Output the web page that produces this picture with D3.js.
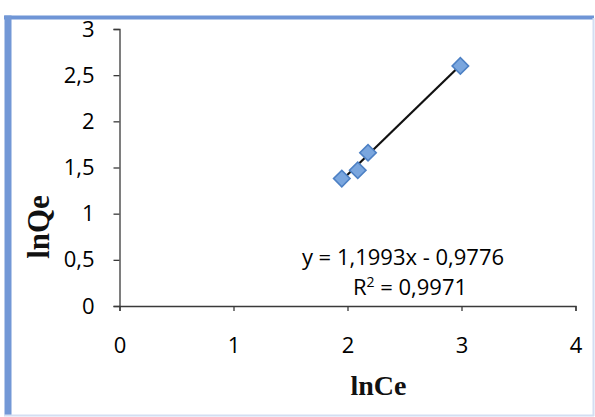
<!DOCTYPE html>
<html>
<head>
<meta charset="utf-8">
<script src="https://cdn.jsdelivr.net/npm/d3@7"></script>
<style>
  html, body { margin: 0; padding: 0; background: #fff; }
  svg { display: block; }
</style>
</head>
<body>
<svg id="chart" width="595" height="417"></svg>
<script>
// Freundlich isotherm points: lnCe vs lnQe
const lnCe = [1.95, 2.09, 2.18, 2.99];
const lnQe = [1.38, 1.47, 1.66, 2.60];

// Linear trendline as reported
const slope = 1.1993;
const intercept = -0.9776;
const rSquared = 0.9971;

const xTicks = [0, 1, 2, 3, 4];
const yTicks = [0, 0.5, 1, 1.5, 2, 2.5, 3];

const fmt = v => String(v).replace(".", ",");

const svg = d3.select("#chart");

// Frame around the chart
const frame = svg.append("g");
frame.append("line").attr("x1", 4).attr("x2", 594).attr("y1", 17.5).attr("y2", 17.5)
  .attr("stroke", "#6f95d6").attr("stroke-width", 4);
frame.append("line").attr("x1", 8).attr("x2", 8).attr("y1", 15.5).attr("y2", 416)
  .attr("stroke", "#7398d6").attr("stroke-width", 7);
frame.append("line").attr("x1", 593.5).attr("x2", 593.5).attr("y1", 18).attr("y2", 416)
  .attr("stroke", "#d3def2").attr("stroke-width", 2);
frame.append("line").attr("x1", 4).attr("x2", 594).attr("y1", 415.5).attr("y2", 415.5)
  .attr("stroke", "#d3def2").attr("stroke-width", 2);

const x = d3.scaleLinear().domain([0, 4]).range([119.5, 575.5]);
const y = d3.scaleLinear().domain([0, 3]).range([306, 29]);

const axisColor = "#3a3a3a";
const tickFont = "'Open Sans', 'Liberation Sans', sans-serif";

// Y axis
const gy = svg.append("g").attr("transform", `translate(${x(0)},0)`)
  .call(d3.axisLeft(y).tickValues(yTicks).tickFormat(fmt).tickSize(6).tickPadding(19));
gy.select(".domain").attr("stroke", axisColor).attr("stroke-width", 1.3);
gy.selectAll(".tick line").attr("stroke", axisColor).attr("stroke-width", 1.3);
gy.selectAll(".tick text").attr("font-family", tickFont).attr("font-size", 22)
  .attr("fill", "#000");

// X axis
const gx = svg.append("g").attr("transform", `translate(0,${y(0)})`)
  .call(d3.axisBottom(x).tickValues(xTicks).tickFormat(fmt).tickSize(5).tickPadding(26));
gx.select(".domain").attr("stroke", axisColor).attr("stroke-width", 1.3);
gx.selectAll(".tick line").attr("stroke", axisColor).attr("stroke-width", 1.3);
gx.selectAll(".tick text").attr("font-family", tickFont).attr("font-size", 22)
  .attr("fill", "#000");

// Axis titles
svg.append("text")
  .attr("x", x(2) + 31).attr("y", 395)
  .attr("text-anchor", "middle")
  .attr("font-family", "'Liberation Serif', 'Times New Roman', serif")
  .attr("font-weight", "bold").attr("font-size", 28).attr("fill", "#111")
  .text("lnCe");

svg.append("text")
  .attr("transform", "translate(49,227) rotate(-90)")
  .attr("text-anchor", "middle")
  .attr("font-family", "'Liberation Serif', 'Times New Roman', serif")
  .attr("font-weight", "bold").attr("font-size", 31).attr("fill", "#111")
  .text("lnQe");

// Trendline across the data range
const xMin = d3.min(lnCe), xMax = d3.max(lnCe);
svg.append("line")
  .attr("x1", x(xMin)).attr("y1", y(slope * xMin + intercept))
  .attr("x2", x(xMax)).attr("y2", y(slope * xMax + intercept))
  .attr("stroke", "#111").attr("stroke-width", 2.2);

// Diamond markers
const diamond = d3.symbol().type(d3.symbolSquare).size(135);
svg.append("g").selectAll("path")
  .data(lnCe.map((v, i) => [v, lnQe[i]]))
  .join("path")
  .attr("d", diamond)
  .attr("transform", d => `translate(${x(d[0])},${y(d[1])}) rotate(45)`)
  .attr("fill", "#7aa6de")
  .attr("stroke", "#4d80c4")
  .attr("stroke-width", 1.6);

// Trendline equation label
svg.append("text")
  .attr("x", 403).attr("y", 265)
  .attr("text-anchor", "middle")
  .attr("font-family", tickFont).attr("font-size", 22).attr("fill", "#000")
  .text(`y = ${fmt(slope)}x - ${fmt(Math.abs(intercept))}`);

const r2 = svg.append("text")
  .attr("x", 410).attr("y", 295)
  .attr("text-anchor", "middle")
  .attr("font-family", tickFont).attr("font-size", 22).attr("fill", "#000");
r2.append("tspan").text("R");
r2.append("tspan").attr("font-size", 14).attr("dy", -8).text("2");
r2.append("tspan").attr("dy", 8).text(` = ${fmt(rSquared)}`);
</script>
</body>
</html>
